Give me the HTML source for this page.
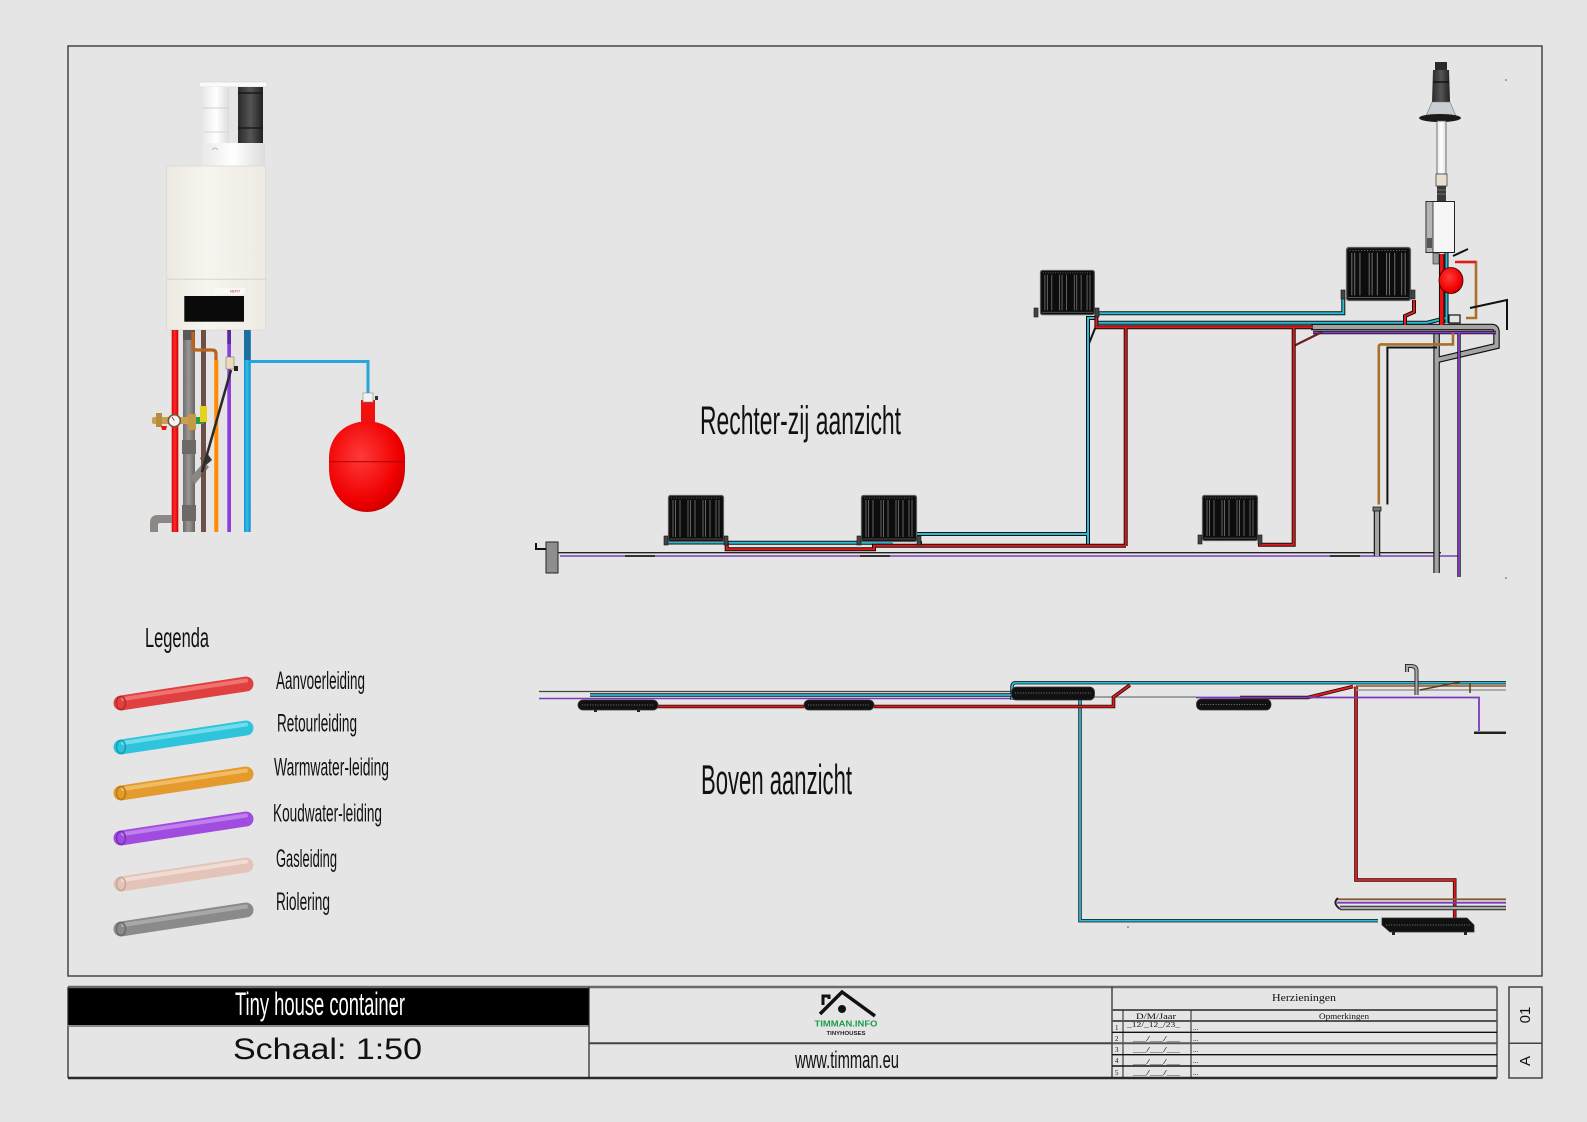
<!DOCTYPE html>
<html><head><meta charset="utf-8"><style>
html,body{margin:0;padding:0;background:#e5e5e5;}
svg{display:block;}
.c{font-family:"Liberation Sans Narrow","Liberation Sans",sans-serif;fill:#111;}
.s{font-family:"Liberation Serif",serif;fill:#111;}
</style></head><body>
<svg width="1587" height="1122" viewBox="0 0 1587 1122" xmlns="http://www.w3.org/2000/svg">
<defs>
<linearGradient id="gWhite" x1="0" x2="1"><stop offset="0" stop-color="#e9e9e9"/><stop offset=".5" stop-color="#ffffff"/><stop offset="1" stop-color="#dcdcdc"/></linearGradient>
<linearGradient id="gBlack" x1="0" x2="1"><stop offset="0" stop-color="#2a2a2a"/><stop offset=".5" stop-color="#555"/><stop offset="1" stop-color="#222"/></linearGradient>
<linearGradient id="gBody" x1="0" x2="1"><stop offset="0" stop-color="#ece9e1"/><stop offset=".4" stop-color="#f7f5ef"/><stop offset="1" stop-color="#eeebe3"/></linearGradient>
<linearGradient id="gGray" x1="0" x2="1"><stop offset="0" stop-color="#6f6b69"/><stop offset=".45" stop-color="#9a9694"/><stop offset="1" stop-color="#6a6664"/></linearGradient>
<linearGradient id="gRed" x1="0" x2="1"><stop offset="0" stop-color="#d80000"/><stop offset=".45" stop-color="#ff2a2a"/><stop offset="1" stop-color="#cc0000"/></linearGradient>
<linearGradient id="gBlue" x1="0" x2="1"><stop offset="0" stop-color="#1490c8"/><stop offset=".45" stop-color="#2ec0ee"/><stop offset="1" stop-color="#1588c0"/></linearGradient>
<radialGradient id="gTank" cx=".42" cy=".38" r=".7"><stop offset="0" stop-color="#ff3a3a"/><stop offset=".7" stop-color="#f00000"/><stop offset="1" stop-color="#c00000"/></radialGradient>
<g id="rad">
<rect x="0.5" y="0.5" width="55" height="46" rx="2" fill="#0c0c0c" stroke="#5a5a5a" stroke-width="1.2"/>
<line x1="3" y1="3" x2="53" y2="3" stroke="#777" stroke-width="0.8" stroke-dasharray="1 1.5"/>
<g stroke="#6c6c6c" stroke-width="0.9">
<line x1="5" y1="5" x2="5" y2="42"/><line x1="7.5" y1="5" x2="7.5" y2="42"/><line x1="12" y1="5" x2="12" y2="42"/>
<line x1="20" y1="5" x2="20" y2="42"/><line x1="22.5" y1="5" x2="22.5" y2="42"/><line x1="27" y1="5" x2="27" y2="42"/>
<line x1="35" y1="5" x2="35" y2="42"/><line x1="37.5" y1="5" x2="37.5" y2="42"/><line x1="42" y1="5" x2="42" y2="42"/>
<line x1="48" y1="5" x2="48" y2="42"/><line x1="51" y1="5" x2="51" y2="42"/>
</g>
<line x1="2" y1="44" x2="54" y2="44" stroke="#666" stroke-width="0.8"/>
</g>
<!-- elevation pipes -->
<path id="cyE" fill="none" d="M668 542.5 H724 M726 542.7 H859 M859 542.7 H893 M916.5 534 H1088 M1088 544 V318 H1096 M1095 313.3 H1343.3 V297 M1096 322.7 H1427 L1446.5 318 M1446.5 323 V252"/>
<path id="rdE" fill="none" d="M726.7 541 V549.3 H874 V545.7 H1126 M920 541 V545.7 M1125.7 546 V328 M1096.4 315 V327.2 H1313 M1293.7 328 V544.8 H1260 V540 M1414 300 V312 L1405 316 V325"/>
<path id="gyE" fill="none" d="M1311 327 H1492 Q1496.5 327 1496.5 332 V346 L1437 360 M1436.6 332 V573 M1377 511 V556"/>
<!-- plan pipes -->
<path id="cyP" fill="none" d="M590 695 H1012 M1012 700 V687 Q1012 682.7 1016 682.7 H1506 M1080 700 V920.7 H1378"/>
<path id="rdP" fill="none" d="M657.6 706.5 H804 M874 706.5 H1113.5 V697 L1130 685 M1240 697.5 H1308 L1353 686.5 M1356 686.5 V880 H1454.7 V918"/>
</defs>

<!-- main frame -->
<rect x="68" y="46" width="1474" height="930" fill="none" stroke="#3a3a3a" stroke-width="1.4"/>
<circle cx="1506" cy="80" r="0.8" fill="#555"/><circle cx="1506" cy="578" r="0.8" fill="#555"/><circle cx="1128" cy="927" r="0.8" fill="#555"/>

<!-- ===== Boiler left ===== -->
<rect x="199" y="82" width="68" height="5" fill="#fafafa" stroke="#d0d0d0" stroke-width="0.6"/>
<rect x="203" y="87" width="26" height="75" fill="url(#gWhite)"/>
<line x1="203" y1="108" x2="229" y2="108" stroke="#cfcfcf"/>
<line x1="203" y1="132" x2="229" y2="132" stroke="#d4d4d4"/>
<rect x="238" y="87" width="25" height="56" fill="url(#gBlack)"/>
<line x1="238" y1="93" x2="263" y2="93" stroke="#1a1a1a" stroke-width="1.5"/>
<line x1="238" y1="128" x2="263" y2="128" stroke="#1a1a1a" stroke-width="1.5"/>
<path d="M202 143 H265 V166 H202 Z" fill="url(#gWhite)"/>
<path d="M212 150 q3 -4 6 0" stroke="#bbb" fill="none"/>
<rect x="166.7" y="166" width="99" height="164" fill="url(#gBody)" stroke="#dcd9d0" stroke-width="0.8"/>
<line x1="167" y1="279.3" x2="265.5" y2="279.3" stroke="#d6d3ca"/>
<rect x="215" y="288" width="30" height="6" fill="#f9f8f4"/>
<text x="230" y="292.5" font-family="Liberation Sans,sans-serif" font-size="3.5" fill="#a33">NEFIT</text>
<rect x="184.3" y="296" width="59.7" height="25.7" fill="#0a0a0a"/>
<!-- pipes below boiler -->
<rect x="171.7" y="330" width="6.6" height="202" fill="url(#gRed)"/>
<rect x="183" y="330" width="12" height="202" fill="url(#gGray)"/>
<rect x="183" y="330" width="12" height="10" fill="#5b5856"/>
<rect x="182" y="440" width="14" height="14" fill="#6d6967"/>
<rect x="182" y="505" width="14" height="16" fill="#6d6967"/>
<path d="M190 478 L204 462 L209 467 L195 484 Z" fill="#8a8684"/>
<path d="M200 458 L207 453 L212 460 L205 466 Z" fill="#333"/>
<rect x="201" y="330" width="5" height="202" fill="#6e5048"/>
<path d="M193 332 V346 Q193 350 197 350 H212 Q216 350 216 354 V362" stroke="#b8641e" stroke-width="3.2" fill="none"/>
<rect x="214.3" y="360" width="4" height="172" fill="#ff8a00"/>
<rect x="227.3" y="330" width="3.7" height="202" fill="#8e3de0"/>
<rect x="227.3" y="330" width="3.7" height="14" fill="#5b2aa0"/>
<rect x="244" y="330" width="6.7" height="202" fill="url(#gBlue)"/>
<rect x="244" y="330" width="6.7" height="30" fill="#1c6fa0"/>
<path d="M250 361.5 H368 V394" stroke="#26a6dc" stroke-width="3" fill="none"/>
<path d="M202 472 L231 370" stroke="#2a2a2a" stroke-width="2.5"/>
<rect x="226" y="357" width="8" height="12" fill="#e8dcc0" stroke="#8a7a50" stroke-width="0.6"/>
<rect x="234" y="366" width="4" height="5" fill="#222"/>
<!-- valve assembly -->
<rect x="152" y="417" width="48" height="7" rx="2" fill="#c9a050"/>
<rect x="156" y="413" width="6" height="14" fill="#b88c3c"/>
<rect x="188" y="414" width="8" height="16" fill="#c49a48"/>
<circle cx="174.3" cy="420.7" r="6" fill="#f4f4f4" stroke="#6a5a3a" stroke-width="1.5"/>
<line x1="174.3" y1="420.7" x2="172" y2="417" stroke="#c00" stroke-width="0.8"/>
<path d="M161 426 h6 l-1 4 h-4 z" fill="#e11"/>
<rect x="196" y="417" width="8" height="7" fill="#2a9a44"/>
<rect x="200" y="406" width="7" height="16" fill="#e6d21c"/>
<!-- drain elbow -->
<path d="M150 532 V523 Q150 515 158 515 H172 V523 H160 Q158 523 158 525 V532 Z" fill="#8c8886"/>
<!-- expansion tank -->
<rect x="361" y="400" width="14" height="24" fill="#f01010"/>
<rect x="363" y="393" width="10" height="9" fill="#f2f2f2" stroke="#888" stroke-width="0.6"/>
<rect x="375" y="396" width="3" height="4" fill="#333"/>
<path d="M359 422 C340 426 329 440 329 458 L329 468 C329 494 346 512 367 512 C388 512 405 494 405 468 L405 458 C405 440 394 426 375 422 Z" fill="url(#gTank)"/>
<line x1="329" y1="461.7" x2="405" y2="461.7" stroke="#b00000" stroke-width="1"/>

<!-- ===== Legend ===== -->
<text class="c" x="145" y="647" font-size="28" textLength="64" lengthAdjust="spacingAndGlyphs">Legenda</text>
<g stroke-linecap="round" fill="none">
<line x1="121" y1="703" x2="246" y2="684" stroke="#e04040" stroke-width="15"/>
<line x1="123" y1="699" x2="246" y2="680.5" stroke="#f27272" stroke-width="4"/>
<line x1="121" y1="747" x2="246" y2="728" stroke="#2ec4dc" stroke-width="15"/>
<line x1="123" y1="743" x2="246" y2="724.5" stroke="#72dcea" stroke-width="4"/>
<line x1="121" y1="793" x2="246" y2="774" stroke="#e49a2c" stroke-width="15"/>
<line x1="123" y1="789" x2="246" y2="770.5" stroke="#f0bc62" stroke-width="4"/>
<line x1="121" y1="838" x2="246" y2="819" stroke="#a04ce0" stroke-width="15"/>
<line x1="123" y1="834" x2="246" y2="815.5" stroke="#bf80ee" stroke-width="4"/>
<line x1="121" y1="884" x2="246" y2="865" stroke="#e4c4b8" stroke-width="15"/>
<line x1="123" y1="880" x2="246" y2="861.5" stroke="#f0dcd4" stroke-width="4"/>
<line x1="121" y1="929" x2="246" y2="910" stroke="#8a8a8a" stroke-width="15"/>
<line x1="123" y1="925" x2="246" y2="906.5" stroke="#a8a8a8" stroke-width="4"/>
</g>
<g fill="none" stroke-width="1.5">
<ellipse cx="121" cy="703" rx="4.5" ry="6.5" stroke="#b82828"/>
<ellipse cx="121" cy="747" rx="4.5" ry="6.5" stroke="#1a9cb0"/>
<ellipse cx="121" cy="793" rx="4.5" ry="6.5" stroke="#b87818"/>
<ellipse cx="121" cy="838" rx="4.5" ry="6.5" stroke="#7a2cb8"/>
<ellipse cx="121" cy="884" rx="4.5" ry="6.5" stroke="#c8a498"/>
<ellipse cx="121" cy="929" rx="4.5" ry="6.5" stroke="#6a6a6a"/>
</g>
<g class="c" font-size="25">
<text x="276" y="689" textLength="89" lengthAdjust="spacingAndGlyphs">Aanvoerleiding</text>
<text x="277" y="731.5" textLength="80" lengthAdjust="spacingAndGlyphs">Retourleiding</text>
<text x="274" y="775.5" textLength="115" lengthAdjust="spacingAndGlyphs">Warmwater-leiding</text>
<text x="273" y="821.5" textLength="109" lengthAdjust="spacingAndGlyphs">Koudwater-leiding</text>
<text x="276" y="867" textLength="61" lengthAdjust="spacingAndGlyphs">Gasleiding</text>
<text x="276" y="910" textLength="54" lengthAdjust="spacingAndGlyphs">Riolering</text>
</g>

<!-- ===== Labels ===== -->
<text class="c" x="700" y="434" font-size="40" textLength="201" lengthAdjust="spacingAndGlyphs">Rechter-zij aanzicht</text>
<text class="c" x="701" y="794" font-size="42" textLength="151" lengthAdjust="spacingAndGlyphs">Boven aanzicht</text>

<!-- ===== Elevation (Rechter-zij) ===== -->
<line x1="558" y1="552.7" x2="1441" y2="552.7" stroke="#222" stroke-width="1.3"/>
<line x1="560" y1="556" x2="1458" y2="556" stroke="#7a3fb8" stroke-width="1.6"/>
<g stroke="#222" stroke-width="1.8"><line x1="625" y1="556" x2="655" y2="556"/><line x1="860" y1="556" x2="890" y2="556"/><line x1="1330" y1="556" x2="1360" y2="556"/></g>
<rect x="546" y="542" width="12" height="31" fill="#8e8e8e" stroke="#222" stroke-width="1"/>
<path d="M546 549 H536 V543" stroke="#111" stroke-width="2" fill="none"/>
<!-- pipes -->
<use href="#gyE" stroke="#111" stroke-width="6.5"/>
<use href="#gyE" stroke="#a4a4a4" stroke-width="4.2"/>
<path d="M1313 332.5 H1496 M1459 332 V577" stroke="#111" stroke-width="3.4" fill="none"/>
<path d="M1313 332.5 H1496 M1459 332 V577" stroke="#8a3ccc" stroke-width="1.8" fill="none"/>
<path d="M1378.8 504.5 V347 Q1378.8 344.4 1381 344.4 H1453 V333 M1460 262 H1476 V318 H1466" stroke="#a8702a" stroke-width="2.6" fill="none"/>
<path d="M1387.4 504.5 V347.5 H1437 M1470 308 L1507 300 V330 M1453 256 L1468 249 M1088 346 L1096 326" stroke="#111" stroke-width="2" fill="none"/>
<path d="M1293.7 346 L1322 332" stroke="#6a2020" stroke-width="2.2" fill="none"/>
<use href="#cyE" stroke="#111" stroke-width="4"/>
<use href="#cyE" stroke="#2cbcd8" stroke-width="2"/>
<use href="#rdE" stroke="#111" stroke-width="4"/>
<use href="#rdE" stroke="#e81818" stroke-width="2"/>
<path d="M1441.7 254 V325" stroke="#111" stroke-width="5.5"/>
<path d="M1441.7 254 V325" stroke="#f01010" stroke-width="3.5"/>
<path d="M1377 511 h-4 v-4 h8 v4 z" fill="#777" stroke="#111" stroke-width="0.8"/>
<!-- radiators elevation -->
<use href="#rad" transform="translate(668,495)"/>
<use href="#rad" transform="translate(861,495)"/>
<use href="#rad" transform="translate(1202,495) scale(1,0.98)"/>
<use href="#rad" transform="translate(1040,270) scale(0.98,0.96)"/>
<use href="#rad" transform="translate(1346,247) scale(1.16,1.15)"/>
<g fill="#444" stroke="#111" stroke-width="0.6">
<rect x="664" y="536" width="4" height="9"/><rect x="724" y="536" width="4" height="9"/>
<rect x="857" y="536" width="4" height="9"/><rect x="917" y="536" width="4" height="9"/>
<rect x="1198" y="535" width="4" height="9"/><rect x="1258" y="535" width="4" height="9"/>
<rect x="1034" y="308" width="4" height="9"/><rect x="1095" y="308" width="4" height="9"/>
<rect x="1341" y="290" width="4" height="9"/><rect x="1411" y="290" width="4" height="9"/>
</g>
<!-- flue & boiler (elevation) -->
<rect x="1435" y="62" width="12" height="8" fill="#2a2a2a"/>
<path d="M1433 70 H1449 L1450 102 H1432 Z" fill="url(#gBlack)"/>
<line x1="1433" y1="82" x2="1449" y2="82" stroke="#111" stroke-width="1.5"/>
<path d="M1432 102 H1450 L1456 116 H1426 Z" fill="#c9ced3" stroke="#777" stroke-width="0.6"/>
<ellipse cx="1440" cy="118" rx="21" ry="4" fill="#1a1a1a"/>
<rect x="1437" y="121" width="9" height="53" fill="url(#gWhite)" stroke="#555" stroke-width="0.8"/>
<rect x="1436" y="174" width="11" height="12" fill="#e8e0cc" stroke="#444" stroke-width="0.8"/>
<rect x="1437" y="186" width="9" height="15" fill="#3a3a3a"/>
<g stroke="#888" stroke-width="0.7"><line x1="1437" y1="190" x2="1446" y2="190"/><line x1="1437" y1="194" x2="1446" y2="194"/></g>
<rect x="1426" y="201.5" width="28.5" height="51" fill="#f6f6f6" stroke="#222" stroke-width="1"/>
<rect x="1426" y="201.5" width="7" height="51" fill="#b4b4b4" stroke="#222" stroke-width="0.8"/>
<rect x="1427" y="238" width="5" height="10" fill="#555"/>
<rect x="1433" y="253" width="6" height="11" fill="#9a9a9a" stroke="#222" stroke-width="0.6"/>
<path d="M1455 262 H1476" stroke="#e81818" stroke-width="2.5"/>
<ellipse cx="1451" cy="280.5" rx="12" ry="13" fill="url(#gTank)" stroke="#300" stroke-width="0.8"/>
<rect x="1449" y="315" width="11" height="8" fill="none" stroke="#111" stroke-width="1.2"/>

<!-- ===== Plan view (Boven) ===== -->
<line x1="539" y1="691.5" x2="1014" y2="691.5" stroke="#444" stroke-width="1.3"/>
<line x1="539" y1="698.5" x2="1012" y2="698.5" stroke="#7a38c0" stroke-width="1.5"/>
<line x1="1012" y1="697" x2="1196" y2="697" stroke="#888" stroke-width="1.5"/>
<use href="#cyP" stroke="#111" stroke-width="3.4"/>
<use href="#cyP" stroke="#2cbcd8" stroke-width="1.8"/>
<use href="#rdP" stroke="#111" stroke-width="3.6"/>
<use href="#rdP" stroke="#e81818" stroke-width="2"/>
<path d="M1196 697.5 H1479 V731" stroke="#7a38c0" stroke-width="1.8" fill="none"/>
<path d="M1474 732.7 H1506" stroke="#222" stroke-width="2.5"/>
<path d="M1356 686 H1506" stroke="#8b5a2b" stroke-width="1.6"/>
<path d="M1356 690 H1506" stroke="#999" stroke-width="1.6"/>
<path d="M1416.5 695 V671 Q1416.5 666 1411 666 H1407 V672" stroke="#222" stroke-width="4" fill="none"/>
<path d="M1416.5 695 V671 Q1416.5 666 1411 666 H1407 V672" stroke="#aaa" stroke-width="2.2" fill="none"/>
<path d="M1420 690 L1460 682 M1470 683 v10" stroke="#5a4020" stroke-width="1.6" fill="none"/>
<path d="M1337 899.3 H1506" stroke="#8b5a2b" stroke-width="1.8"/>
<path d="M1337 902.7 H1506" stroke="#7a38c0" stroke-width="1.8"/>
<path d="M1340 908 H1506" stroke="#222" stroke-width="4.5"/>
<path d="M1340 908 H1506" stroke="#aaa" stroke-width="2.5"/>
<path d="M1338 898 Q1332 903 1340 909" stroke="#222" stroke-width="2" fill="none"/>
<g fill="#111" stroke="#333" stroke-width="0.8">
<rect x="578" y="700" width="80" height="10" rx="5"/>
<rect x="804" y="700" width="70" height="10" rx="5"/>
<rect x="1011.5" y="687" width="83" height="13" rx="5"/>
<rect x="1196.5" y="699" width="74.5" height="11" rx="5"/>
<path d="M1382 918 H1467 L1474 925 V932 H1390 L1382 925 Z"/>
</g>
<g stroke="#777" stroke-width="0.9" stroke-dasharray="1 1.6" fill="none">
<line x1="582" y1="705" x2="654" y2="705"/><line x1="808" y1="705" x2="870" y2="705"/>
<line x1="1015" y1="693" x2="1091" y2="693"/><line x1="1200" y1="704.5" x2="1267" y2="704.5"/>
<line x1="1386" y1="925" x2="1470" y2="925"/>
</g>
<g fill="#222"><rect x="1392" y="931" width="3" height="4"/><rect x="1464" y="931" width="3" height="4"/><rect x="594" y="709" width="3" height="3"/><rect x="637" y="709" width="3" height="3"/></g>

<!-- ===== Title block ===== -->
<rect x="68" y="987" width="521" height="39" fill="#000"/>
<text x="235" y="1015" font-family="Liberation Sans Narrow,Liberation Sans,sans-serif" font-size="32" fill="#fff" textLength="170" lengthAdjust="spacingAndGlyphs">Tiny house container</text>
<text x="233" y="1059" font-family="Liberation Sans,sans-serif" font-size="30" fill="#111" textLength="189" lengthAdjust="spacingAndGlyphs">Schaal:  1:50</text>
<g fill="none">
<line x1="68" y1="987" x2="1497" y2="987" stroke="#6a6a6a" stroke-width="2.5"/>
<line x1="68" y1="1078" x2="1497" y2="1078" stroke="#2a2a2a" stroke-width="2.5"/>
<line x1="68" y1="987" x2="68" y2="1078" stroke="#222" stroke-width="1.2"/>
<line x1="68" y1="1026" x2="589" y2="1026" stroke="#8a8a8a" stroke-width="2"/>
<line x1="589" y1="987" x2="589" y2="1078" stroke="#222" stroke-width="1.2"/>
<line x1="1112" y1="987" x2="1112" y2="1078" stroke="#222" stroke-width="1.2"/>
<line x1="589" y1="1043.3" x2="1112" y2="1043.3" stroke="#444" stroke-width="2"/>
<line x1="1497" y1="987" x2="1497" y2="1078" stroke="#555" stroke-width="1.6"/>
<line x1="1112" y1="1010" x2="1497" y2="1010" stroke="#555" stroke-width="2"/>
<line x1="1123" y1="1010" x2="1123" y2="1078" stroke="#222" stroke-width="1"/>
<line x1="1191" y1="1010" x2="1191" y2="1078" stroke="#222" stroke-width="1"/>
<line x1="1112" y1="1021" x2="1497" y2="1021" stroke="#555" stroke-width="2"/>
<line x1="1112" y1="1032.3" x2="1497" y2="1032.3" stroke="#111" stroke-width="1.4"/>
<line x1="1112" y1="1043.3" x2="1497" y2="1043.3" stroke="#555" stroke-width="2"/>
<line x1="1112" y1="1054.7" x2="1497" y2="1054.7" stroke="#111" stroke-width="1.4"/>
<line x1="1112" y1="1066" x2="1497" y2="1066" stroke="#111" stroke-width="1.4"/>
<rect x="1509" y="987" width="33" height="91" stroke="#444" stroke-width="1.5"/>
<line x1="1509" y1="1043.3" x2="1542" y2="1043.3" stroke="#444" stroke-width="1.5"/>
</g>
<!-- logo -->
<path d="M820 1014 L842 992 L875 1016" stroke="#111" stroke-width="3.5" fill="none" stroke-linejoin="miter"/>
<path d="M823 1005 V996 H829 V999" stroke="#111" stroke-width="3" fill="none"/>
<circle cx="842" cy="1009" r="4" fill="#111"/>
<text x="846" y="1026.5" text-anchor="middle" font-family="Liberation Sans,sans-serif" font-weight="bold" font-size="8.5" fill="#1a9e4a" textLength="63" lengthAdjust="spacingAndGlyphs">TIMMAN.INFO</text>
<text x="846" y="1035" text-anchor="middle" font-family="Liberation Sans,sans-serif" font-weight="bold" font-size="5" fill="#222" textLength="39" lengthAdjust="spacingAndGlyphs">TINYHOUSES</text>
<text x="795" y="1068" font-family="Liberation Sans Narrow,Liberation Sans,sans-serif" font-size="24" fill="#111" textLength="104" lengthAdjust="spacingAndGlyphs">www.timman.eu</text>
<!-- revisions -->
<text class="s" x="1304" y="1001" font-size="11" text-anchor="middle" textLength="64" lengthAdjust="spacingAndGlyphs">Herzieningen</text>
<text class="s" x="1156" y="1019" font-size="8" text-anchor="middle" textLength="40" lengthAdjust="spacingAndGlyphs">D/M/Jaar</text>
<text class="s" x="1344" y="1019" font-size="8" text-anchor="middle" textLength="50" lengthAdjust="spacingAndGlyphs">Opmerkingen</text>
<g class="s" font-size="7">
<text x="1115" y="1030">1</text><text x="1115" y="1041">2</text><text x="1115" y="1052">3</text><text x="1115" y="1063">4</text><text x="1115" y="1075">5</text>
<text x="1127" y="1027" textLength="53" lengthAdjust="spacingAndGlyphs">_12/_12_/23_</text>
<text x="1133" y="1041" textLength="47" lengthAdjust="spacingAndGlyphs">__/__/__</text>
<text x="1133" y="1052" textLength="47" lengthAdjust="spacingAndGlyphs">__/__/__</text>
<text x="1133" y="1064" textLength="47" lengthAdjust="spacingAndGlyphs">__/__/__</text>
<text x="1133" y="1075" textLength="47" lengthAdjust="spacingAndGlyphs">__/__/__</text>
<text x="1193" y="1030">...</text><text x="1193" y="1041">...</text><text x="1193" y="1052">...</text><text x="1193" y="1063">...</text><text x="1193" y="1075">...</text>
</g>
<text transform="translate(1530,1015) rotate(-90)" text-anchor="middle" font-family="Liberation Sans,sans-serif" font-size="15" fill="#111">01</text>
<text transform="translate(1530,1061) rotate(-90)" text-anchor="middle" font-family="Liberation Sans,sans-serif" font-size="15" fill="#111">A</text>
</svg>
</body></html>
